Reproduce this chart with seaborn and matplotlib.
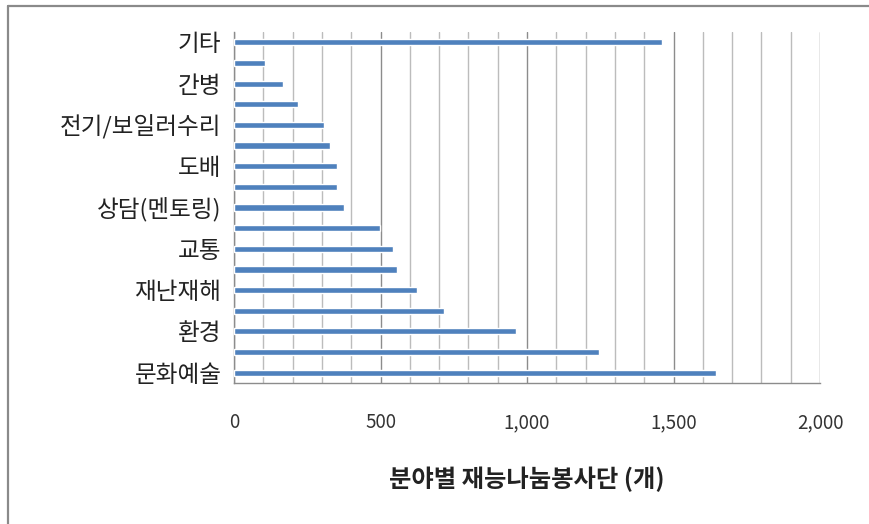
import matplotlib
matplotlib.use("Agg")
import matplotlib.pyplot as plt
from matplotlib.lines import Line2D
from matplotlib.ticker import MultipleLocator, FuncFormatter
import seaborn as sns
import pandas as pd

# Talent-sharing volunteer groups by field (top to bottom); only every other field is labelled
field_labels = ["기타", "", "간병", "", "전기/보일러수리", "", "도배", "",
                "상담(멘토링)", "", "교통", "", "재난재해", "", "환경", "", "문화예술"]
group_counts = [1460, 105, 168, 217, 308, 328, 353, 353,
                377, 498, 544, 555, 623, 717, 962, 1246, 1645]
x_title = "분야별 재능나눔봉사단 (개)"

sns.set_theme(style="white")
plt.rcParams["font.family"] = ["Noto Sans CJK KR", "DejaVu Sans"]

df = pd.DataFrame({"pos": range(len(group_counts)), "count": group_counts})

fig = plt.figure(figsize=(8.69, 5.24), dpi=100)
ax = fig.add_axes([234 / 869, 1 - 383 / 524, 586 / 869, 351 / 524])

sns.barplot(data=df, x="count", y="pos", orient="h", native_scale=True,
            width=0.3, color="#4F81BD", saturation=1, ax=ax, zorder=3)

ax.set_xlim(0, 2000)
ax.set_ylim(len(group_counts) - 0.5, -0.5)

# vertical gridlines: every 100 light, every 500 darker
ax.xaxis.set_major_locator(MultipleLocator(500))
ax.xaxis.set_minor_locator(MultipleLocator(100))
ax.grid(axis="x", which="minor", color="#bcbcbc", linewidth=1.0, zorder=0)
ax.grid(axis="x", which="major", color="#8c8c8c", linewidth=1.0, zorder=0)
ax.set_axisbelow(True)
ax.xaxis.set_major_formatter(FuncFormatter(lambda v, _: f"{int(v):,}"))

shown = [i for i, lab in enumerate(field_labels) if lab]
ax.set_yticks(shown)
ax.set_yticklabels([field_labels[i] for i in shown], fontsize=17, color="#222222")

ax.tick_params(axis="x", which="major", length=6, width=1, color="#8c8c8c",
               direction="out", pad=15, labelsize=13.5, labelcolor="#333333")
ax.tick_params(axis="x", which="minor", length=0)
ax.tick_params(axis="y", length=0, pad=9)

for side in ("top", "right"):
    ax.spines[side].set_visible(False)
for side in ("left", "bottom"):
    ax.spines[side].set_color("#8c8c8c")
    ax.spines[side].set_linewidth(1.0)

ax.set_ylabel("")
ax.set_xlabel(x_title, fontsize=17.5, fontweight="bold", color="#222222", labelpad=24)

# outer chart border
fig.add_artist(Line2D([8 / 869, 8 / 869], [-0.05, 1 - 6 / 524],
                      transform=fig.transFigure, color="#8a8a8a", linewidth=1.6))
fig.add_artist(Line2D([8 / 869, 1.05], [1 - 6 / 524, 1 - 6 / 524],
                      transform=fig.transFigure, color="#8a8a8a", linewidth=1.6))

fig.savefig("out.png", dpi=100, facecolor="white")
